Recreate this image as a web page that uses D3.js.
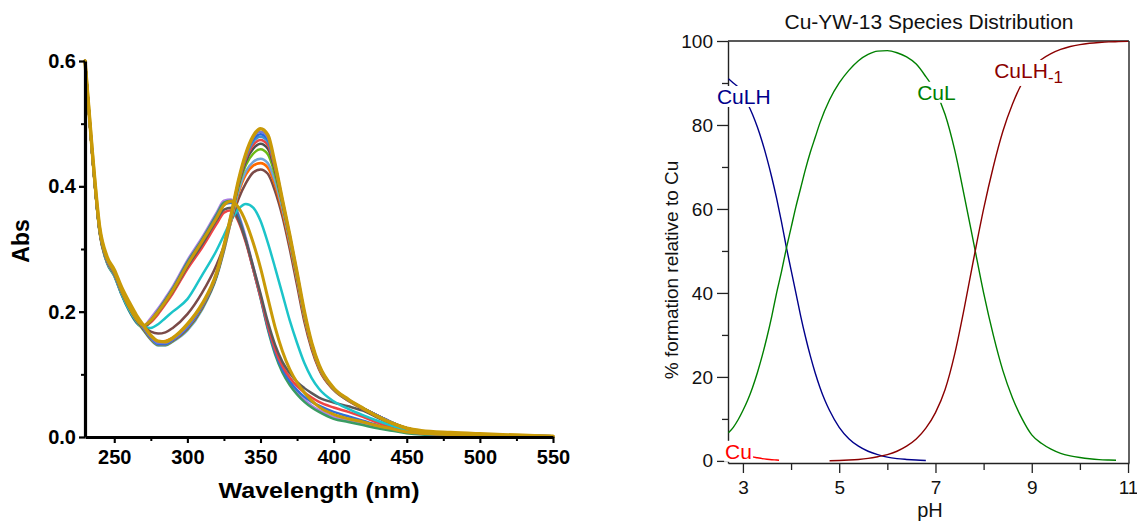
<!DOCTYPE html>
<html><head><meta charset="utf-8">
<script src="https://cdn.jsdelivr.net/npm/d3@7/dist/d3.min.js"></script>
<style>body{margin:0;background:#fff}svg{display:block}</style>
</head><body>
<svg id="chart" width="1137" height="525"></svg>
<script>
// ---------------- LEFT: UV-Vis spectra ----------------
const wavelengths = [230,235,240,245,250,255,260,265,270,275,280,285,290,300,310,320,325,330,335,340,345,350,355,360,365,370,375,380,385,390,400,410,420,430,440,450,460,480,500,525,550];
const absPurple = [.60,.45,.328,.28,.259,.229,.204,.186,.177,.19,.205,.222,.24,.282,.318,.358,.377,.379,.355,.318,.272,.226,.176,.136,.106,.086,.071,.059,.05,.043,.032,.026,.021,.016,.011,.007,.005,.003,.002,.001,0];
const absGreen = [.60,.45,.326,.278,.257,.227,.202,.183,.175,.186,.202,.219,.237,.279,.315,.355,.374,.377,.352,.314,.268,.222,.172,.132,.103,.083,.068,.056,.047,.04,.029,.024,.019,.014,.01,.006,.004,.003,.002,.001,0];
const absBlueLow = [.60,.45,.328,.279,.258,.228,.203,.184,.175,.185,.2,.217,.235,.277,.313,.352,.371,.374,.35,.313,.268,.223,.175,.136,.108,.089,.075,.064,.056,.05,.04,.033,.026,.019,.013,.008,.005,.003,.002,.001,0];
const absRedLow = [.60,.45,.33,.282,.261,.231,.205,.186,.176,.183,.196,.212,.229,.268,.302,.34,.358,.362,.343,.31,.268,.224,.178,.14,.113,.095,.081,.071,.063,.056,.047,.04,.032,.023,.015,.009,.006,.004,.002,.001,0];
const absGreyLow = [.60,.45,.329,.281,.26,.23,.204,.185,.176,.185,.199,.215,.232,.272,.307,.346,.363,.366,.346,.313,.272,.229,.184,.147,.12,.102,.088,.078,.07,.063,.055,.049,.042,.031,.02,.012,.007,.004,.002,.001,0];
const absCyan = [.60,.45,.328,.28,.259,.229,.204,.186,.175,.174,.18,.19,.2,.22,.258,.298,.322,.346,.364,.372,.366,.345,.31,.27,.228,.186,.15,.118,.094,.077,.057,.045,.035,.026,.018,.011,.007,.004,.002,.001,0];
const absBrown = [.60,.45,.328,.282,.262,.234,.21,.19,.176,.168,.165,.167,.174,.196,.23,.275,.305,.345,.38,.405,.422,.427,.42,.392,.352,.3,.242,.184,.14,.108,.075,.058,.045,.033,.022,.014,.009,.006,.004,.002,.001];
const absOrange = [.60,.45,.328,.281,.261,.232,.208,.188,.172,.158,.152,.153,.158,.176,.207,.258,.298,.346,.39,.419,.433,.437,.43,.402,.36,.308,.25,.19,.144,.11,.076,.058,.045,.033,.022,.014,.009,.006,.004,.002,.001];
const absLightBlue = [.60,.45,.328,.28,.259,.23,.206,.186,.17,.155,.146,.146,.152,.17,.203,.255,.297,.347,.393,.424,.439,.444,.437,.408,.365,.312,.253,.193,.146,.112,.077,.059,.046,.034,.023,.014,.009,.006,.004,.002,.001];
const absLime = [.60,.45,.329,.281,.26,.231,.207,.187,.171,.156,.147,.147,.153,.172,.205,.257,.3,.35,.4,.434,.452,.459,.451,.418,.371,.316,.256,.195,.147,.113,.077,.059,.046,.034,.023,.014,.009,.006,.004,.002,.001];
const absCharcoal = [.60,.45,.329,.282,.261,.232,.208,.188,.172,.157,.148,.148,.154,.173,.206,.258,.301,.352,.403,.44,.46,.468,.46,.425,.374,.318,.258,.197,.148,.114,.077,.059,.046,.034,.023,.014,.009,.006,.004,.002,.001];
const absRedHigh = [.60,.45,.33,.282,.261,.232,.209,.189,.173,.157,.148,.148,.154,.174,.207,.259,.302,.353,.405,.444,.466,.474,.466,.428,.375,.319,.259,.197,.148,.114,.077,.059,.046,.034,.023,.014,.009,.006,.004,.002,.001];
const absTeal = [.60,.45,.33,.283,.262,.233,.21,.19,.174,.158,.148,.148,.155,.175,.208,.26,.303,.354,.407,.447,.471,.479,.471,.431,.376,.32,.26,.198,.149,.114,.077,.059,.046,.034,.023,.014,.009,.006,.004,.002,.001];
const absBlueHigh = [.60,.45,.331,.283,.263,.234,.211,.191,.175,.159,.149,.149,.155,.176,.209,.261,.304,.355,.408,.45,.475,.483,.475,.433,.377,.321,.261,.198,.149,.114,.077,.059,.046,.034,.023,.014,.009,.006,.004,.002,.001];
const absPeriwinkle = [.60,.452,.332,.284,.264,.235,.212,.192,.176,.16,.15,.15,.156,.177,.21,.261,.305,.356,.409,.451,.478,.487,.478,.434,.378,.322,.262,.199,.149,.114,.078,.06,.046,.034,.023,.014,.009,.006,.004,.002,.001];
const absGoldLow = [.60,.455,.333,.285,.264,.234,.209,.189,.178,.186,.2,.216,.234,.275,.312,.35,.37,.376,.366,.343,.31,.27,.222,.175,.137,.108,.087,.071,.058,.048,.036,.029,.024,.018,.013,.008,.006,.004,.002,.001,0];
const absGoldHigh = [.60,.455,.335,.288,.267,.239,.216,.195,.178,.162,.153,.152,.158,.18,.212,.262,.305,.355,.41,.452,.48,.492,.482,.435,.378,.322,.262,.2,.15,.115,.078,.06,.046,.033,.022,.014,.01,.007,.005,.003,.001];

const spectra = [absPurple, absGreen, absBlueLow, absRedLow, absGreyLow, absCyan, absBrown, absOrange, absLightBlue, absLime, absCharcoal, absRedHigh, absTeal, absBlueHigh, absPeriwinkle, absGoldLow, absGoldHigh];
const spectraColors = ["#ad7de6","#3a9c62","#2f6fd8","#ee4444","#5a5a5a","#1cc4c9","#7a4a48","#ff6a00","#70a3d8","#6cba14","#4f4f4f","#e84646","#3d94cf","#2668de","#6f78e0","#c99a08","#c99a08"];
const spectraWidths = [2.5,2.5,2.5,2.5,2.5,2.5,2.5,2.7,2.5,2.5,2.5,2.5,2.5,2.5,2.5,3,3.5];

const xTicksMajor = [250,300,350,400,450,500,550];
const xTicksMinor = [275,325,375,425,475,525];
const yTicksMajor = [0.0,0.2,0.4,0.6];
const yTicksMinor = [0.1,0.3,0.5];

const svg = d3.select("#chart");
const boldFont = "'Liberation Sans', Arial, Helvetica, sans-serif";

const xL = d3.scaleLinear().domain([230,550]).range([85,553]);
const yL = d3.scaleLinear().domain([0,0.6]).range([437,61]);

const gL = svg.append("g");
const lineL = d3.line().x((d,i)=>xL(wavelengths[i])).y(d=>yL(d)).curve(d3.curveMonotoneX);
spectra.forEach((s,k)=>{
  gL.append("path").attr("d", lineL(s)).attr("fill","none")
    .attr("stroke", spectraColors[k]).attr("stroke-width", spectraWidths[k])
    .attr("stroke-linejoin","round").attr("stroke-linecap","round");
});

function styleAxis(g, w){
  g.select(".domain").attr("stroke","#000").attr("stroke-width",w);
  g.selectAll(".tick line").attr("stroke","#000").attr("stroke-width",w*0.7);
}
const xAxL = gL.append("g").attr("transform",`translate(0,${yL(0)})`)
  .call(d3.axisBottom(xL).tickValues(xTicksMajor).tickSize(6).tickPadding(7).tickSizeOuter(0));
xAxL.selectAll("text").attr("font-family",boldFont).attr("font-weight","bold").attr("font-size",20).attr("fill","#000");
styleAxis(xAxL,3);
const xAxLm = gL.append("g").attr("transform",`translate(0,${yL(0)})`)
  .call(d3.axisBottom(xL).tickValues(xTicksMinor).tickSize(4).tickFormat(""));
xAxLm.select(".domain").remove();
xAxLm.selectAll(".tick line").attr("stroke","#000").attr("stroke-width",2);

const yAxL = gL.append("g").attr("transform",`translate(${xL(230)},0)`)
  .call(d3.axisLeft(yL).tickValues(yTicksMajor).tickSize(6).tickPadding(3).tickSizeOuter(0).tickFormat(d3.format(".1f")));
yAxL.selectAll("text").attr("font-family",boldFont).attr("font-weight","bold").attr("font-size",20).attr("fill","#000");
styleAxis(yAxL,3.2);
const yAxLm = gL.append("g").attr("transform",`translate(${xL(230)},0)`)
  .call(d3.axisLeft(yL).tickValues(yTicksMinor).tickSize(4).tickFormat(""));
yAxLm.select(".domain").remove();
yAxLm.selectAll(".tick line").attr("stroke","#000").attr("stroke-width",2);

gL.append("text").text("Abs").attr("transform","translate(29,241) rotate(-90)")
  .attr("text-anchor","middle").attr("font-family",boldFont).attr("font-weight","bold").attr("font-size",23);
gL.append("text").text("Wavelength (nm)").attr("x",319).attr("y",498)
  .attr("text-anchor","middle").attr("font-family",boldFont).attr("font-weight","bold").attr("font-size",22)
  .attr("textLength",201).attr("lengthAdjust","spacingAndGlyphs");

// ---------------- RIGHT: species distribution ----------------
const phCuLH = [2.7,2.8,2.9,3.0,3.1,3.2,3.3,3.4,3.5,3.6,3.7,3.8,3.9,4.0,4.1,4.2,4.3,4.4,4.5,4.6,4.7,4.8,5.0,5.2,5.4,5.6,5.8,6.0,6.2,6.4,6.6,6.8];
const pctCuLH = [91,90,89,87,85,82.5,79.5,76,72,67.5,62.5,57,51,45.5,40,34.5,29.5,25,21,17.5,14.5,12,8,5.3,3.5,2.3,1.5,0.9,0.55,0.35,0.2,0.1];
const phCuL = [2.7,2.8,2.9,3.0,3.1,3.2,3.3,3.4,3.5,3.6,3.7,3.8,3.9,4.0,4.1,4.2,4.3,4.4,4.5,4.6,4.8,5.0,5.2,5.4,5.6,5.8,6.0,6.2,6.4,6.6,6.8,7.0,7.2,7.4,7.6,7.8,8.0,8.2,8.4,8.6,8.8,9.0,9.2,9.4,9.6,9.8,10.0,10.2,10.4,10.6,10.75];
const pctCuL = [6.7,8,9.8,12,14.5,17.5,21,25,29.5,34.5,40,45,50.5,55.5,60.5,65,69.5,73.5,77,80.5,86,90,93,95.3,96.8,97.6,97.7,97.2,96.2,94.5,91.5,88,82.5,74,63,51.5,40,30,21.5,15,10,6.2,4.2,2.8,1.8,1.2,0.8,0.5,0.3,0.2,0.15];
const phCuLHm1 = [4.8,5.0,5.2,5.4,5.6,5.8,6.0,6.2,6.4,6.6,6.8,7.0,7.2,7.4,7.6,7.8,8.0,8.2,8.4,8.6,8.8,9.0,9.2,9.4,9.6,9.8,10.0,10.2,10.4,10.6,10.8,11.0];
const pctCuLHm1 = [0.05,0.1,0.2,0.35,0.6,1.0,1.5,2.3,3.5,5.2,7.8,11.5,17,25.5,36.5,48.5,60,70,78.5,85,90,93.5,95.6,97,98,98.7,99.15,99.45,99.65,99.8,99.85,99.9];
const phCu = [2.7,2.8,2.9,3.0,3.1,3.2,3.3,3.4,3.5,3.6,3.7,3.75];
const pctCu = [2.4,2.1,1.8,1.5,1.2,0.95,0.75,0.55,0.4,0.28,0.2,0.15];

const speciesColors = ["#00008b","#008000","#8b0000","#ff0000"];
const labelTexts = ["CuLH","CuL","CuLH","Cu"];
const labelSubs = ["","","-1",""];
const labelPh = [2.46,6.62,8.22,2.63];
const labelPct = [85,86,91.2,0.5];

const phTicksMajor = [3,5,7,9,11];
const phTicksMinor = [4,6,8,10];
const pctTicksMajor = [0,20,40,60,80,100];
const pctTicksMinor = [10,30,50,70,90];

const font = "'Liberation Sans', Arial, Helvetica, sans-serif";
const xR = d3.scaleLinear().domain([2.69,11.02]).range([728,1129]);
const yR = d3.scaleLinear().domain([-0.5,100]).range([463,41]);
const gR = svg.append("g");

const axisCol = "#222";
gR.append("line").attr("x1",xR.range()[0]).attr("x2",xR.range()[1]).attr("y1",yR(100)).attr("y2",yR(100)).attr("stroke",axisCol).attr("stroke-width",1.4);
gR.append("line").attr("x1",xR.range()[1]).attr("x2",xR.range()[1]).attr("y1",yR(100)).attr("y2",yR.range()[0]).attr("stroke",axisCol).attr("stroke-width",1.4);

const xAxR = gR.append("g").attr("transform",`translate(0,${yR.range()[0]})`)
  .call(d3.axisBottom(xR).tickValues(phTicksMajor).tickSize(10).tickPadding(8).tickSizeOuter(0));
const xAxRm = gR.append("g").attr("transform",`translate(0,${yR.range()[0]})`)
  .call(d3.axisBottom(xR).tickValues(phTicksMinor).tickSize(7).tickFormat(""));
xAxRm.select(".domain").remove();
const yAxR = gR.append("g").attr("transform",`translate(${xR.range()[0]},0)`)
  .call(d3.axisLeft(yR).tickValues(pctTicksMajor).tickSize(11).tickPadding(4).tickSizeOuter(0));
const yAxRm = gR.append("g").attr("transform",`translate(${xR.range()[0]},0)`)
  .call(d3.axisLeft(yR).tickValues(pctTicksMinor).tickSize(6).tickFormat(""));
yAxRm.select(".domain").remove();
[xAxR,xAxRm,yAxR,yAxRm].forEach(g=>{
  g.selectAll(".domain").attr("stroke",axisCol).attr("stroke-width",1.4);
  g.selectAll(".tick line").attr("stroke",axisCol).attr("stroke-width",1.3);
  g.selectAll("text").attr("font-family",font).attr("font-size",19).attr("fill","#111");
});

const lineR = d3.line().x(d=>xR(d[0])).y(d=>yR(d[1])).curve(d3.curveMonotoneX);
const speciesData = [
  d3.zip(phCuLH,pctCuLH), d3.zip(phCuL,pctCuL), d3.zip(phCuLHm1,pctCuLHm1), d3.zip(phCu,pctCu)
];
speciesData.forEach((s,k)=>{
  gR.append("path").attr("d",lineR(s)).attr("fill","none")
    .attr("stroke",speciesColors[k]).attr("stroke-width",1.4);
});

labelTexts.forEach((t,k)=>{
  const lg = gR.append("g");
  const txt = lg.append("text").attr("x",xR(labelPh[k])).attr("y",yR(labelPct[k]))
    .attr("font-family",font).attr("font-size",21).attr("fill",speciesColors[k]).text(t);
  if(labelSubs[k]){
    txt.append("tspan").attr("dy",5).attr("font-size",17).text(labelSubs[k]);
  }
  const bb = txt.node().getBBox();
  lg.insert("rect","text").attr("x",bb.x-1).attr("y",bb.y+1).attr("width",bb.width+2).attr("height",bb.height-2).attr("fill","#fff");
});

gR.append("text").text("Cu-YW-13 Species Distribution").attr("x",929).attr("y",29)
  .attr("text-anchor","middle").attr("font-family",font).attr("font-size",21).attr("fill","#111");
gR.append("text").text("pH").attr("x",930).attr("y",517)
  .attr("text-anchor","middle").attr("font-family",font).attr("font-size",20).attr("fill","#111");
gR.append("text").text("% formation relative to Cu").attr("transform","translate(678,270) rotate(-90)")
  .attr("text-anchor","middle").attr("font-family",font).attr("font-size",19).attr("fill","#111");
</script>
</body></html>
